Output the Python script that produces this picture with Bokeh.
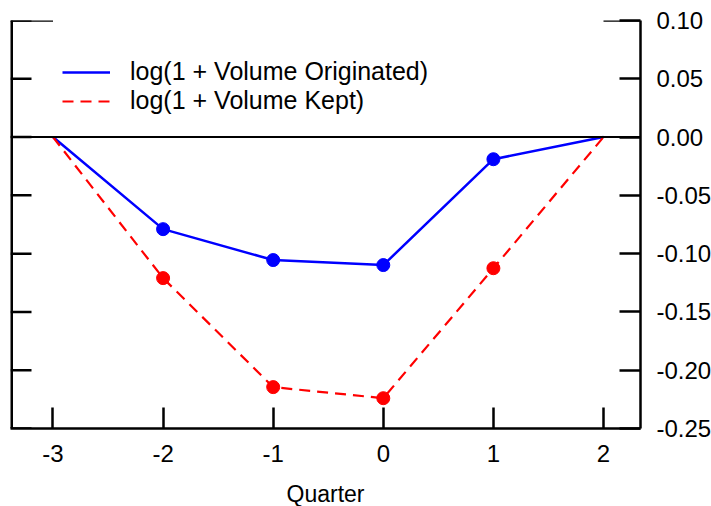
from bokeh.plotting import figure
from bokeh.models import (Range1d, FixedTicker, Span, Legend,
                          LegendItem, ColumnDataSource)
from bokeh.embed import file_html
from bokeh.resources import INLINE

# ---- data ----
quarters = [-3, -2, -1, 0, 1, 2]
vol_originated = [0.0, -0.079, -0.1055, -0.1098, -0.019, 0.0]
vol_kept = [0.0, -0.121, -0.2145, -0.224, -0.1125, 0.0]
marker_quarters = [-2, -1, 0, 1]
marker_originated = [-0.079, -0.1055, -0.1098, -0.019]
marker_kept = [-0.121, -0.2145, -0.224, -0.1125]
x_ticks = [-3, -2, -1, 0, 1, 2]
x_tick_labels = ["-3", "-2", "-1", "0", "1", "2"]
y_ticks = [0.10, 0.05, 0.0, -0.05, -0.10, -0.15, -0.20, -0.25]
y_tick_labels = ["0.10", "0.05", "0.00", "-0.05", "-0.10", "-0.15", "-0.20", "-0.25"]
series_names = ["log(1 + Volume Originated)", "log(1 + Volume Kept)"]
x_label = "Quarter"

FONT = "Liberation Sans"
x_start, x_end = -3.386, 2.336
y_start, y_end = -0.25, 0.10
FRAME_W = 630  # px, used to convert the inward tick length to data units
TICK_PX = 21

p = figure(width=714, height=509, output_backend="svg", toolbar_location=None,
           x_range=Range1d(x_start, x_end), y_range=Range1d(y_start, y_end),
           y_axis_location="right", min_border_left=10, min_border_top=20,
           min_border_right=0, min_border_bottom=2)
p.grid.visible = False
p.outline_line_color = None
p.background_fill_color = "white"
p.border_fill_color = "white"

def style_axis(ax, fs):
    ax.axis_line_width = 2.5
    ax.axis_line_color = "black"
    ax.major_tick_line_width = 2.5
    ax.major_tick_line_color = "black"
    ax.major_tick_in = TICK_PX
    ax.major_tick_out = 0
    ax.minor_tick_line_color = None
    ax.major_label_text_font = FONT
    ax.major_label_text_font_size = fs
    ax.major_label_text_color = "black"

# bottom axis
xa = p.xaxis[0]
style_axis(xa, "24px")
xa.ticker = FixedTicker(ticks=x_ticks)
xa.major_label_overrides = {t: l for t, l in zip(x_ticks, x_tick_labels)}
xa.major_label_standoff = 16
xa.axis_label = x_label
xa.axis_label_text_font = FONT
xa.axis_label_text_font_size = "23px"
xa.axis_label_text_font_style = "normal"
xa.axis_label_text_color = "black"
xa.axis_label_standoff = 16

# right axis
ya = p.yaxis[0]
style_axis(ya, "24px")
ya.ticker = FixedTicker(ticks=y_ticks)
ya.major_label_overrides = {t: l for t, l in zip(y_ticks, y_tick_labels)}
ya.major_label_standoff = 16

# left spine with inward ticks (no labels)
tick_len = TICK_PX * (x_end - x_start) / FRAME_W
p.segment(x0=[x_start], y0=[y_start], x1=[x_start], y1=[y_end],
          line_color="black", line_width=5)
p.segment(x0=[x_start] * len(y_ticks), y0=y_ticks,
          x1=[x_start + tick_len] * len(y_ticks), y1=y_ticks,
          line_color="black", line_width=2.5)

# zero line
p.add_layout(Span(location=0, dimension="width", line_color="black", line_width=2))

# short top edge segments
p.segment(x0=[x_start, x_ticks[-1]], y0=[y_end, y_end], x1=[x_ticks[0], x_end],
          y1=[y_end, y_end], line_color="black", line_width=2.5)

src = ColumnDataSource(dict(x=quarters, a=vol_originated, b=vol_kept))
msrc = ColumnDataSource(dict(x=marker_quarters, a=marker_originated, b=marker_kept))

l1 = p.line("x", "a", source=src, line_color="#0000ff", line_width=2.5)
l2 = p.line("x", "b", source=src, line_color="#ff0000", line_width=2.2,
            line_dash="11 7")
p.scatter("x", "a", source=msrc, size=13, fill_color="#0000ff", line_color="#0000ff")
p.scatter("x", "b", source=msrc, size=13, fill_color="#ff0000", line_color="#ff0000")

legend = Legend(items=[LegendItem(label=series_names[0], renderers=[l1]),
                       LegendItem(label=series_names[1], renderers=[l2])],
                location=(52, 313))
legend.border_line_color = None
legend.background_fill_alpha = 0
legend.padding = 0
legend.spacing = -1
legend.glyph_width = 48
legend.glyph_height = 20
legend.label_height = 20
legend.label_standoff = 20
legend.label_text_font = FONT
legend.label_text_font_size = "25px"
legend.label_text_color = "black"
p.add_layout(legend, "center")

open("out.html", "w").write(file_html(p, INLINE))
